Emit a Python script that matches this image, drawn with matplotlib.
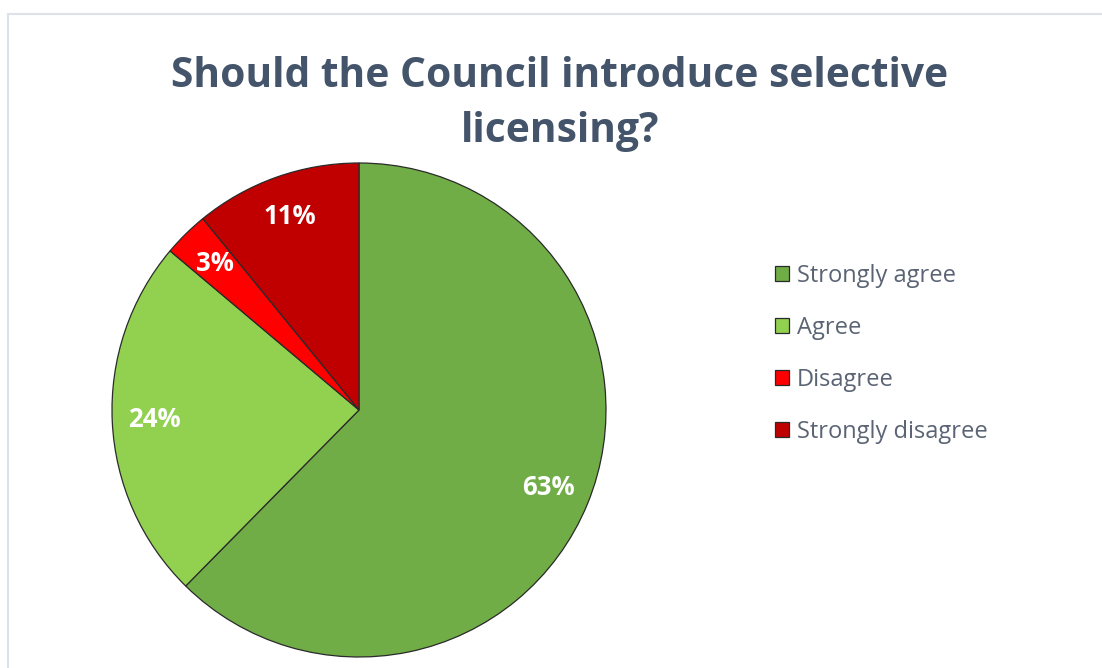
import matplotlib.pyplot as plt
from matplotlib.patches import Rectangle

# Survey answers
categories = ["Strongly agree", "Agree", "Disagree", "Strongly disagree"]
shares = [63, 24, 3, 11]
colors = ["#70AD47", "#92D050", "#FF0000", "#C00000"]

title = "Should the Council introduce selective\nlicensing?"
title_color = "#44546A"
legend_color = "#5B6474"

fig = plt.figure(figsize=(11.02, 6.68), dpi=100)
W, H = 1102, 668

# light frame round the chart area
fig.patches.append(Rectangle((8 / W, -0.1), 1.2, 1 - 14 / H + 0.1,
                             transform=fig.transFigure, fill=False,
                             edgecolor="#DDE1E8", linewidth=1.5))

# square axes for the pie, sized in pixels
cx, cy, r = 359, 410, 247
ax = fig.add_axes([(cx - r) / W, (H - cy - r) / H, 2 * r / W, 2 * r / H])

wedges, texts, autotexts = ax.pie(
    shares, colors=colors, startangle=90, counterclock=False,
    autopct=lambda p: "", pctdistance=0.83,
    wedgeprops=dict(edgecolor="#2A2A2A", linewidth=0.9),
)
for t, v in zip(autotexts, shares):
    t.set_text(f"{v}%")
    t.set_color("white")
    t.set_fontsize(18.5)
    t.set_fontweight("bold")
    t.set_fontfamily("Open Sans")
ax.set_xlim(-1, 1)
ax.set_ylim(-1, 1)
ax.set_aspect("equal")
ax.axis("off")

fig.text(0.508, 1 - 104 / H, title, ha="center", va="center",
         fontsize=29.3, fontweight="bold", family="Open Sans",
         color=title_color, linespacing=1.45)

leg = fig.legend(wedges, categories, loc="upper left",
                 bbox_to_anchor=(754 / W, 1 - 243 / H), frameon=False,
                 prop={"family": "Open Sans", "size": 17},
                 labelcolor=legend_color, handlelength=0.6,
                 handleheight=0.6, handletextpad=0.32, labelspacing=1.18)

fig.savefig("out.png", dpi=100)
